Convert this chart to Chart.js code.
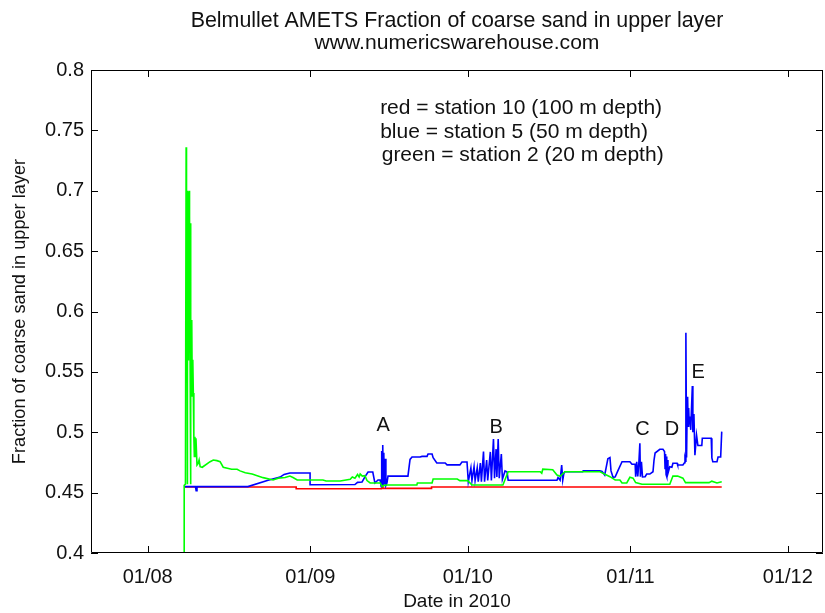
<!DOCTYPE html>
<html>
<head>
<meta charset="utf-8">
<script src="https://cdn.jsdelivr.net/npm/chart.js@4.4.1/dist/chart.umd.min.js"></script>
<style>
  html, body { margin: 0; padding: 0; background: #fff; }
  #wrap { width: 825px; height: 613px; }
</style>
</head>
<body>
<div id="wrap"><canvas id="c" width="825" height="613"></canvas></div>
<script>
// ---- data (x = days since 01/08/2010, y = fraction) ----
const titleLines = ['Belmullet AMETS Fraction of coarse sand in upper layer', 'www.numericswarehouse.com'];
const xTitle = 'Date in 2010';
const yTitle = 'Fraction of coarse sand in upper layer';
const xTickDays = [0, 31, 61, 92, 122];
const xTickLabels = ['01/08', '01/09', '01/10', '01/11', '01/12'];
const xRange = [-10.8, 128.7];
const yRange = [0.4, 0.8];
const yStep = 0.05;

const legendLines = [
  {text: 'red = station 10 (100 m depth)', day: 44.3, value: 0.7685},
  {text: 'blue = station 5 (50 m depth)', day: 44.3, value: 0.7487},
  {text: 'green = station 2 (20 m depth)', day: 44.6, value: 0.7296}
];
const eventLabels = [
  {text: 'A', day: 44.9, value: 0.506},
  {text: 'B', day: 66.4, value: 0.5043},
  {text: 'C', day: 94.3, value: 0.5027},
  {text: 'D', day: 99.9, value: 0.5019},
  {text: 'E', day: 104.9, value: 0.5499}
];

const red = [
  [7.0,0.4547],[28.3,0.4547],[28.3,0.4532],[44.6,0.4532],[44.75,0.4556],[44.9,0.4535],
  [54.1,0.4535],[54.1,0.4547],[109.4,0.4547]
];

const blue = [
  [7.1,0.455],[9.1,0.455],[9.24,0.4515],[9.4,0.455],[19.1,0.455],[22.95,0.4603],[25.24,0.4629],
  [26.0,0.4651],[27.1,0.4663],[30.95,0.4663],[30.95,0.4565],[39.5,0.4567],[40.0,0.4585],
  [40.86,0.4588],[41.43,0.4632],[42.0,0.4671],[42.9,0.4671],[43.3,0.458],[43.9,0.4605],
  [44.3,0.4605],[44.5,0.455],[44.6,0.4845],[44.7,0.458],[44.8,0.4894],[44.9,0.456],[45.0,0.483],
  [45.1,0.457],[45.25,0.478],[45.4,0.456],[45.6,0.458],[45.8,0.4637],[49.6,0.4637],[50.0,0.4775],
  [50.38,0.4795],[51.9,0.4795],[52.29,0.480],[53.24,0.480],[53.43,0.482],[54.2,0.482],[54.4,0.479],
  [55.1,0.4745],[56.7,0.4745],[57.05,0.473],[59.5,0.473],[59.9,0.4754],[60.86,0.4754],
  [61.1,0.459],[61.6,0.4705],[61.8,0.460],[62.2,0.4715],[62.4,0.460],[62.8,0.4705],[63.0,0.459],
  [63.4,0.4745],[63.6,0.459],[64.0,0.484],[64.2,0.459],[64.6,0.477],[64.8,0.460],[65.3,0.4837],
  [65.5,0.460],[65.9,0.4944],[66.1,0.462],[66.4,0.486],[66.55,0.463],[66.8,0.4944],[67.0,0.462],
  [67.4,0.482],[67.6,0.461],[68.1,0.468],[68.5,0.467],[68.7,0.4603],
  [78.0,0.4603],[78.2,0.4625],[78.6,0.4603],[78.9,0.4729],
  [79.1,0.4603],[79.3,0.4655],[79.5,0.4673],[82.9,0.4673],[83.0,0.468],[86.2,0.468],[86.6,0.4675],
  [87.1,0.4646],[87.7,0.478],[88.1,0.479],[88.3,0.468],[88.7,0.4625],[89.1,0.463],[89.6,0.468],
  [90.4,0.4756],[91.9,0.4756],[92.3,0.4735],[92.9,0.4735],[93.0,0.4632],[93.2,0.4756],[93.4,0.4635],
  [93.6,0.474],[93.8,0.4908],[93.9,0.4632],[94.1,0.4756],[94.3,0.463],[94.8,0.4632],[95.1,0.4654],
  [95.7,0.4654],[96.3,0.4673],[96.5,0.4770],[96.7,0.4828],[97.6,0.4859],[98.2,0.4859],[98.5,0.484],
  [98.6,0.470],[98.7,0.482],[98.8,0.465],[98.9,0.480],[98.95,0.4632],[99.05,0.477],[99.15,0.466],
  [99.5,0.4715],[99.9,0.471],[100.1,0.4743],[100.9,0.4743],[101.0,0.4729],[102.0,0.4729],
  [102.3,0.4748],[102.4,0.478],[102.5,0.476],[102.57,0.5824],[102.7,0.479],[102.8,0.515],
  [102.9,0.5294],[103.0,0.505],[103.1,0.52],[103.2,0.507],[103.33,0.513],[103.5,0.502],
  [103.6,0.515],[103.8,0.5383],[103.9,0.500],[104.1,0.515],[104.29,0.481],[104.6,0.4977],
  [104.86,0.489],[105.6,0.489],[105.7,0.495],[107.4,0.495],[107.52,0.4787],[107.7,0.4756],
  [108.5,0.4756],[108.7,0.4795],[109.2,0.4795],[109.4,0.5005]
];

const green = [
  [6.95,0.35],[6.96,0.456],[7.2,0.457],[7.33,0.736],[7.4,0.60],[7.5,0.70],[7.55,0.457],[7.6,0.69],
  [7.7,0.56],[7.75,0.699],[7.8,0.57],[7.9,0.70],[7.95,0.60],[8.0,0.68],[8.1,0.55],[8.15,0.673],
  [8.2,0.457],[8.25,0.593],[8.3,0.549],[8.4,0.593],[8.5,0.53],[8.6,0.56],[8.7,0.5325],[8.8,0.4963],
  [8.9,0.48],[9.0,0.4963],[9.1,0.48],[9.2,0.495],[9.4,0.4729],[9.6,0.474],[9.8,0.477],[10.0,0.4715],
  [10.4,0.471],[11.9,0.4756],[12.5,0.477],[13.2,0.4765],[13.8,0.4756],[14.4,0.4710],[16.0,0.4693],
  [17.05,0.4693],[17.6,0.468],[18.6,0.4665],[19.9,0.4654],[22.0,0.4624],[23.9,0.4605],[24.9,0.462],
  [26.2,0.4625],[27.1,0.4637],[27.7,0.4625],[28.5,0.4605],[33.4,0.4605],[34.0,0.4596],[36.7,0.4596],
  [38.6,0.461],[39.0,0.463],[39.5,0.462],[40.0,0.465],[40.3,0.463],[40.5,0.4655],[40.9,0.4637],
  [41.4,0.464],[41.8,0.4600],[42.4,0.458],[44.3,0.458],[44.7,0.455],[45.0,0.456],[45.6,0.4563],
  [51.3,0.4563],[51.4,0.458],[54.2,0.458],[54.4,0.4613],[59.0,0.4613],[59.5,0.4599],[61.0,0.4599],
  [61.8,0.4563],[67.7,0.4563],[68.7,0.4673],[74.8,0.4673],[75.1,0.466],[75.3,0.4694],[77.2,0.469],
  [78.0,0.4646],[78.6,0.4635],[79.5,0.4673],[86.2,0.4673],[88.1,0.4632],[89.1,0.4605],[90.0,0.4605],
  [90.4,0.458],[91.3,0.458],[91.9,0.4627],[92.5,0.462],[93.0,0.4583],[94.2,0.4569],[99.5,0.4569],
  [100.1,0.4637],[101.0,0.4637],[102.0,0.462],[102.5,0.4583],[107.0,0.4583],[107.5,0.4595],
  [108.5,0.458],[109.4,0.459]
];

// ---- chart ----
const FONT = '"Liberation Sans", Arial, Helvetica, sans-serif';
const TEXT = '#111';
const toXY = arr => arr.map(p => ({x: p[0], y: p[1]}));

const framePlugin = {
  id: 'frame',
  afterDatasetsDraw(chart) {
    const {ctx, chartArea: a, scales: {x, y}} = chart;
    ctx.save();
    ctx.strokeStyle = '#000';
    ctx.lineWidth = 1;
    ctx.beginPath();
    ctx.rect(Math.round(a.left) + 0.5, Math.round(a.top) + 0.5,
             Math.round(a.right - a.left) - 1, Math.round(a.bottom - a.top) - 1);
    ctx.stroke();
    const L = 7;
    ctx.beginPath();
    xTickDays.forEach(d => {
      const px = Math.round(x.getPixelForValue(d)) + 0.5;
      ctx.moveTo(px, a.bottom); ctx.lineTo(px, a.bottom - L);
      ctx.moveTo(px, a.top); ctx.lineTo(px, a.top + L);
    });
    y.ticks.forEach(t => {
      const py = Math.round(y.getPixelForValue(t.value)) + 0.5;
      ctx.moveTo(a.left, py); ctx.lineTo(a.left + L, py);
      ctx.moveTo(a.right, py); ctx.lineTo(a.right - L, py);
    });
    ctx.stroke();
    ctx.restore();
  },
  afterDraw(chart) {
    const {ctx, chartArea: a, scales: {x, y}} = chart;
    ctx.save();
    ctx.fillStyle = TEXT;
    const cx = (a.left + a.right) / 2;
    ctx.textAlign = 'center';
    ctx.textBaseline = 'alphabetic';
    ctx.font = '21.4px ' + FONT;
    ctx.fillText(titleLines[0], cx, 27);
    ctx.font = '21.1px ' + FONT;
    ctx.fillText(titleLines[1], cx, 49);
    ctx.font = '21px ' + FONT;
    ctx.textAlign = 'left';
    ctx.textBaseline = 'middle';
    legendLines.forEach(l => ctx.fillText(l.text, x.getPixelForValue(l.day), y.getPixelForValue(l.value)));
    ctx.font = '20px ' + FONT;
    ctx.textAlign = 'center';
    eventLabels.forEach(l => ctx.fillText(l.text, x.getPixelForValue(l.day), y.getPixelForValue(l.value)));
    ctx.restore();
  }
};

new Chart(document.getElementById('c'), {
  type: 'line',
  data: {
    datasets: [
      {label: 'green', data: toXY(green), borderColor: '#00ff00'},
      {label: 'blue', data: toXY(blue), borderColor: '#0000ff'},
      {label: 'red', data: toXY(red), borderColor: '#ff0000'}
    ].map(d => Object.assign(d, {borderWidth: 1.6, pointRadius: 0, tension: 0, fill: false}))
  },
  options: {
    responsive: false,
    animation: false,
    layout: {padding: {left: 0, right: 2, top: 70, bottom: 0}},
    plugins: {legend: {display: false}, tooltip: {enabled: false}, title: {display: false}},
    scales: {
      x: {
        type: 'linear',
        min: xRange[0], max: xRange[1],
        afterBuildTicks: s => { s.ticks = xTickDays.map(v => ({value: v})); },
        afterFit: s => { s.height = 60; },
        grid: {display: false, drawTicks: false},
        border: {display: false},
        ticks: {
          color: TEXT, font: {family: FONT, size: 20}, padding: 12, maxRotation: 0, autoSkip: false,
          callback: v => { const i = xTickDays.indexOf(v); return i >= 0 ? xTickLabels[i] : ''; }
        },
        title: {display: true, text: xTitle, color: TEXT, font: {family: FONT, size: 19}, padding: {top: 2, bottom: 0}}
      },
      y: {
        min: yRange[0], max: yRange[1],
        afterFit: s => { s.width = 91; },
        grid: {display: false, drawTicks: false},
        border: {display: false},
        ticks: {
          stepSize: yStep, color: TEXT, font: {family: FONT, size: 20}, padding: 7,
          callback: v => String(Number(v.toFixed(2)))
        },
        title: {display: true, text: yTitle, color: TEXT, font: {family: FONT, size: 18.2}, padding: {top: 9, bottom: 0}}
      }
    }
  },
  plugins: [framePlugin]
});
</script>
</body>
</html>
